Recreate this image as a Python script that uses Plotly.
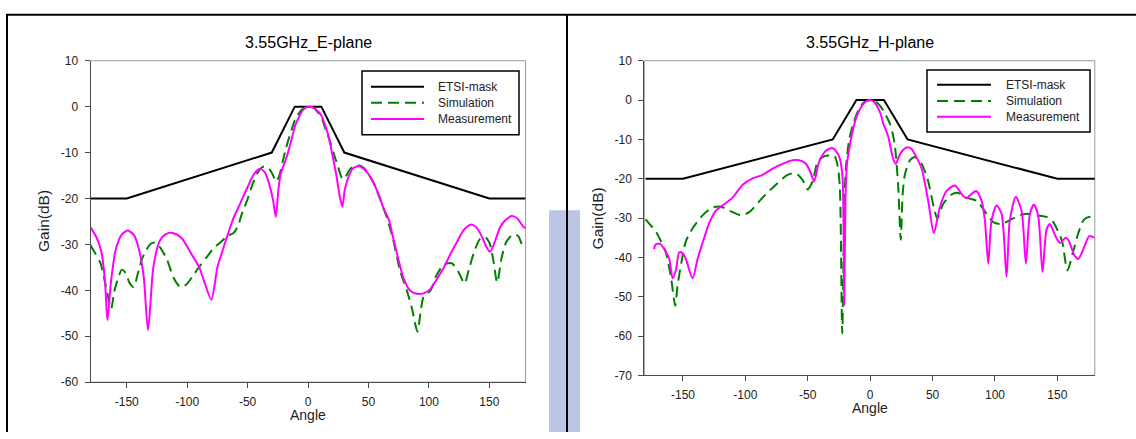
import plotly.graph_objects as go

W, H = 1136, 439
FONT = "Liberation Sans, Arial, sans-serif"

# ETSI mask (same for both planes)
mask_angle = [-180, -150, -30, -11, 11, 30, 150, 180]
mask_gain = [-20, -20, -10, 0, 0, -10, -20, -20]

# 3.55 GHz E-plane, simulation
e_sim_angle = [-180, -176, -171.7, -167.6, -162.9, -160.5, -158, -154, -151, -147.5,
               -144.2, -141, -137.3, -134, -130.4, -126.3, -122, -116.6, -111.2, -105.6,
               -101, -94.6, -89, -83.6, -78, -72.6, -67, -61.6, -58, -55,
               -50.5, -46, -42, -38, -35, -32, -29.4, -26.5, -24, -21,
               -18.5, -16.7, -13.5, -10.6, -6, -2, 1.5, 5, 8, 10.6,
               14, 18.2, 21, 24.2, 26.5, 28.5, 31, 34.8, 38.5, 42.4,
               46.5, 50, 55, 60, 65, 70, 76.2, 81.7, 86, 90.5,
               93, 95.5, 101.5, 106, 112, 118.9, 124, 129.5, 133, 137,
               142, 146.5, 150, 153, 156.5, 160, 164, 169.8, 174, 176.8, 180]
e_sim_gain = [-30.2, -32, -34.1, -38.7, -44.0, -40.5, -38.0, -35.5, -36.2, -38.5,
              -39.3, -36.5, -33.1, -31.3, -29.9, -29.6, -30.8, -33.4, -37.3, -39.3,
              -38.8, -36.6, -34.5, -32.7, -30.8, -29.6, -28.2, -27.5, -26, -23.5,
              -20.5, -17, -14.5, -13.2, -13.0, -13.6, -14.7, -16.3, -15.2, -12,
              -9.3, -7.6, -5, -2.7, -0.9, -0.1, 0, -0.3, -1.2, -2.0,
              -4.5, -7.6, -10, -12.6, -14.5, -15.8, -15.3, -13.6, -13.0, -12.8,
              -13.4, -14.7, -17, -20.4, -24, -28.5, -35.8, -40.0, -44, -49,
              -45, -41.5, -40.0, -36.9, -34.5, -34.1, -35.8, -38.5, -35.5, -32,
              -28.9, -28.4, -29.6, -33, -38.3, -33.1, -29.5, -27.8, -28.2, -29.9, -30.6]

# 3.55 GHz E-plane, measurement
e_meas_angle = [-180, -175, -171, -168, -166, -163, -159, -154, -149, -144,
                -140, -136, -132.4, -128, -123, -118, -112, -105, -96, -90,
                -86, -80, -75, -71, -66, -62, -56, -50, -45, -40,
                -36, -33, -29, -26.7, -24.5, -22.7, -19, -16.7, -13, -10.6,
                -7, -4.5, -1, 2, 5, 8, 10.6, 13.5, 16.7, 19,
                21.2, 23.5, 25.8, 28.3, 30.5, 33.3, 37, 42, 46, 50,
                55, 59, 63, 66.7, 70.7, 75, 78.9, 84.5, 91, 96,
                101, 106, 112, 118, 123, 129, 134.6, 139, 143.7, 147.5,
                150.6, 154, 158.8, 163, 168.5, 173, 178, 180]
e_meas_gain = [-26.3, -28.5, -31.6, -38, -46.5, -38, -31, -27.8, -27.0, -28,
               -31, -37, -48.7, -35, -29.4, -27.8, -27.5, -28.5, -32.3, -35,
               -38, -42, -35, -31.6, -27.5, -24.5, -21, -17.5, -14.8, -13.6,
               -14.2, -16.1, -20.3, -24, -18, -14.7, -12, -10.1, -6.5, -4.1,
               -2, -0.8, -0.1, 0, -0.3, -1.0, -1.7, -3.6, -6.2, -9,
               -11.9, -15, -18.9, -21.8, -18, -15.4, -13.5, -12.9, -13.5, -14.7,
               -17, -19.6, -22.5, -24.5, -28.9, -33.5, -37.3, -40.1, -40.8, -40.6,
               -39.8, -37.8, -35.2, -32, -29.6, -26.8, -25.7, -26.2, -28.2, -30.5,
               -31.6, -29.8, -26.3, -24.8, -23.8, -24.3, -26.1, -26.5]

# 3.55 GHz H-plane, simulation
h_sim_angle = [-180, -175.5, -171.7, -167.5, -163.7, -159.7, -156.2, -154.3, -150.3, -147.7,
               -142.3, -134.3, -126.3, -119.6, -110.3, -103.6, -97, -86.2, -75.6, -66.2,
               -59.5, -54.2, -50.2, -46.2, -42.1, -38, -34.1, -28.8, -26.1, -24.3,
               -22.4, -20.5, -19.5, -16.8, -13, -9, -5, 0.8, 4, 8,
               12, 15.8, 18, 19.8, 22.4, 24.5, 26, 27.8, 31.8, 35.8,
               41.2, 46.5, 51, 53.7, 58.5, 65.2, 70.5, 77.2, 85.3, 93.3,
               98.6, 105.3, 112, 120, 125.3, 133.3, 141.3, 146.4, 150, 153.8,
               158.1, 162.5, 166.8, 171, 175.6, 180]
h_sim_gain = [-30.3, -32, -33.4, -36, -38.7, -44.9, -52.3, -47.0, -39.6, -35.9,
              -32.6, -29.3, -27.3, -27.1, -28.5, -29.3, -28.5, -24.8, -21.5, -19.0,
              -18.6, -20.3, -22.7, -20.7, -15.7, -14.5, -14.1, -14.1, -16.6, -22.3,
              -59.3, -25, -17.4, -10.0, -5.5, -2.3, -0.6, 0, -0.3, -1.5,
              -3.5, -6, -8.5, -11.6, -21.5, -35.5, -24, -19.0, -15.3, -14.5,
              -16.2, -20.7, -27.3, -30.1, -26.4, -24.0, -23.6, -24.8, -25.6, -28.9,
              -31.0, -31.5, -30.5, -29.3, -28.9, -29.3, -29.7, -30.9, -33, -35.9,
              -43.3, -38.7, -33.8, -30.5, -29.7, -30.1]

# 3.55 GHz H-plane, measurement
h_meas_angle = [-173.1, -172, -168, -165, -161, -158.3, -155.7, -153, -150.3, -147.7,
                -142.3, -138.3, -134.3, -129, -123.6, -118.3, -110.3, -102.2, -94.2, -86.2,
                -78.2, -70.2, -62.2, -56.9, -51.5, -47.5, -44.9, -40.9, -35.5, -30.7,
                -27.5, -24.3, -22.1, -20.8, -19.8, -18.5, -16, -13, -10, -6,
                -3, 0, 3, 6, 8.5, 10.4, 14.4, 18.4, 20.6, 23.5,
                26.5, 30, 33, 37, 41.2, 46.5, 51, 55.8, 61.2, 67.9,
                74.5, 77.2, 84.7, 89.3, 91.9, 94.6, 97.3, 101.3, 105.3, 109.3,
                111.9, 116.7, 121.3, 124.8, 128, 131.2, 134.6, 138.1, 141.3, 144,
                147, 150, 152.3, 156.6, 159, 163.9, 166.8, 169.8, 175.6, 180]
h_meas_gain = [-37.9, -36.7, -36.6, -37.9, -40.4, -45.3, -43.3, -38.7, -38.9, -40.4,
               -45.3, -40.4, -36.3, -31.3, -28.1, -26.8, -24.8, -21.5, -19.9, -19.0,
               -17.4, -16.2, -15.3, -15.3, -16.2, -18.6, -20.7, -15.7, -12.9, -12.2,
               -12.9, -14.9, -19.9, -52, -25, -16, -11, -6.5, -3.5, -1.2,
               -0.3, 0, -0.4, -1.8, -3.6, -5.9, -9.2, -14.9, -16.2, -14,
               -12.6, -12.0, -12.4, -14.5, -17.4, -25.6, -33.8, -27.3, -23.1, -21.7,
               -24.4, -24.9, -23.1, -25.6, -30.5, -41.6, -30.5, -26.8, -28.9, -44.9,
               -30.5, -24.6, -28.1, -41.6, -28.9, -26.6, -29.3, -43.7, -33, -31.5,
               -33.5, -35.5, -36.3, -35.0, -35.7, -39.6, -40.4, -38.7, -34.6, -35.0]

series_names = ["ETSI-mask", "Simulation", "Measurement"]
panel_titles = ["3.55GHz_E-plane", "3.55GHz_H-plane"]

angle_ticks = [-150, -100, -50, 0, 50, 100, 150]
e_gain_ticks = [10, 0, -10, -20, -30, -40, -50, -60]
h_gain_ticks = [10, 0, -10, -20, -30, -40, -50, -60, -70]


def fx(px):
    return px / W


def fy(py):
    return 1 - py / H


def plain(vals):
    # tick text with an ASCII hyphen as the minus sign
    return [str(v) for v in vals]


mask_style = dict(color="black", width=2)
sim_style = dict(color="#008000", width=2, dash="11px,6px")
meas_style = dict(color="#ff00ff", width=2)

fig = go.Figure()

panels = [
    dict(xa="x", ya="y", sim=(e_sim_angle, e_sim_gain), meas=(e_meas_angle, e_meas_gain)),
    dict(xa="x2", ya="y2", sim=(h_sim_angle, h_sim_gain), meas=(h_meas_angle, h_meas_gain)),
]
for p in panels:
    fig.add_trace(go.Scatter(x=mask_angle, y=mask_gain, mode="lines", name=series_names[0],
                             line=mask_style, xaxis=p["xa"], yaxis=p["ya"]))
    fig.add_trace(go.Scatter(x=p["sim"][0], y=p["sim"][1], mode="lines", name=series_names[1],
                             line=dict(sim_style, shape="spline", smoothing=0.7),
                             xaxis=p["xa"], yaxis=p["ya"]))
    fig.add_trace(go.Scatter(x=p["meas"][0], y=p["meas"][1], mode="lines", name=series_names[2],
                             line=dict(meas_style, shape="spline", smoothing=0.7),
                             xaxis=p["xa"], yaxis=p["ya"]))

axis_common = dict(
    showline=True, linecolor="#4a4a4a", linewidth=1,
    ticks="outside", ticklen=5, tickwidth=1, tickcolor="#4a4a4a",
    showgrid=False, zeroline=False, fixedrange=True,
    tickfont=dict(family=FONT, size=12, color="#222222"),
)
x_common = dict(axis_common, ticklabelstandoff=3,
                tickvals=angle_ticks, ticktext=plain(angle_ticks))
y_common = dict(axis_common, ticklabelstandoff=4)

# plot boxes in pixels: (left, right, top, bottom)
boxes = [(90.5, 525.6, 55.5, 387.5), (644.3, 1094.8, 55.5, 380.6)]

fig.update_layout(
    width=W, height=H,
    margin=dict(l=0, r=0, t=0, b=0),
    paper_bgcolor="white", plot_bgcolor="white",
    showlegend=False,
    font=dict(family=FONT, color="#222222"),
    xaxis=dict(x_common, domain=[fx(boxes[0][0]), fx(boxes[0][1])], range=[-180, 180],
               anchor="y"),
    yaxis=dict(y_common, domain=[fy(boxes[0][3]), fy(boxes[0][2])], range=[-60, 10],
               tickvals=e_gain_ticks, ticktext=plain(e_gain_ticks), anchor="x"),
    xaxis2=dict(x_common, domain=[fx(boxes[1][0]), fx(boxes[1][1])], range=[-181, 180],
                anchor="y2"),
    yaxis2=dict(y_common, domain=[fy(boxes[1][3]), fy(boxes[1][2])], range=[-70, 10],
                tickvals=h_gain_ticks, ticktext=plain(h_gain_ticks), anchor="x2"),
)

shapes = []
annotations = []

# pale band behind the divider, then the page frame: top rule, left rule, divider
shapes.append(dict(type="rect", xref="paper", yref="paper",
                   x0=fx(549), x1=fx(580), y0=fy(439), y1=fy(210),
                   fillcolor="#bcc5e6", line=dict(width=0), layer="below"))
shapes.append(dict(type="line", xref="paper", yref="paper",
                   x0=fx(6), x1=1, y0=fy(8), y1=fy(8), line=dict(color="black", width=2)))
shapes.append(dict(type="line", xref="paper", yref="paper",
                   x0=fx(7), x1=fx(7), y0=fy(8), y1=0, line=dict(color="black", width=2)))
shapes.append(dict(type="line", xref="paper", yref="paper",
                   x0=fx(567), x1=fx(567), y0=fy(8), y1=0, line=dict(color="black", width=2)))

# legend geometry per panel (pixels)
legends = [
    dict(box=(362, 519, 66, 132), line=(371, 424), text=436, rows=(82.3, 99, 115.7)),
    dict(box=(927, 1090, 65, 129), line=(937, 991), text=1003.5, rows=(80.3, 97, 113.3)),
]
styles = [mask_style, sim_style, meas_style]

for i, (box, leg) in enumerate(zip(boxes, legends)):
    xa = "x" if i == 0 else "x2"
    ya = "y" if i == 0 else "y2"
    l, r, t, b = box
    # light frame on the open sides of the plot area
    shapes.append(dict(type="rect", xref=f"{xa} domain", yref=f"{ya} domain",
                       x0=0, x1=1, y0=0, y1=1, line=dict(color="#9a9a9a", width=1),
                       layer="below"))
    # panel title
    annotations.append(dict(text=panel_titles[i], xref="paper", yref="paper",
                            x=fx((l + r) / 2), y=fy(37), xanchor="center", yanchor="middle",
                            showarrow=False, font=dict(size=16, color="black")))
    # axis titles
    annotations.append(dict(text="Angle", xref="paper", yref="paper",
                            x=fx((l + r) / 2), y=fy(b + 33.5), xanchor="center", yanchor="middle",
                            showarrow=False, font=dict(size=14, color="#222222")))
    annotations.append(dict(text="Gain(dB)", xref="paper", yref="paper", textangle=-90,
                            x=fx(l - 47), y=fy((t + b) / 2), xanchor="center", yanchor="middle",
                            showarrow=False, font=dict(size=15.5, color="#222222")))
    # legend box
    bl, br, bt, bb = leg["box"]
    shapes.append(dict(type="rect", xref="paper", yref="paper",
                       x0=fx(bl), x1=fx(br), y0=fy(bb), y1=fy(bt),
                       fillcolor="white", line=dict(color="black", width=1.5)))
    for name, st, row in zip(series_names, styles, leg["rows"]):
        shapes.append(dict(type="line", xref="paper", yref="paper",
                           x0=fx(leg["line"][0]), x1=fx(leg["line"][1]),
                           y0=fy(row), y1=fy(row), line=st))
        annotations.append(dict(text=name, xref="paper", yref="paper",
                                x=fx(leg["text"]), y=fy(row), xanchor="left", yanchor="middle",
                                showarrow=False, font=dict(size=12, color="#222222")))

fig.update_layout(shapes=shapes, annotations=annotations)
fig.write_html("out.html")
